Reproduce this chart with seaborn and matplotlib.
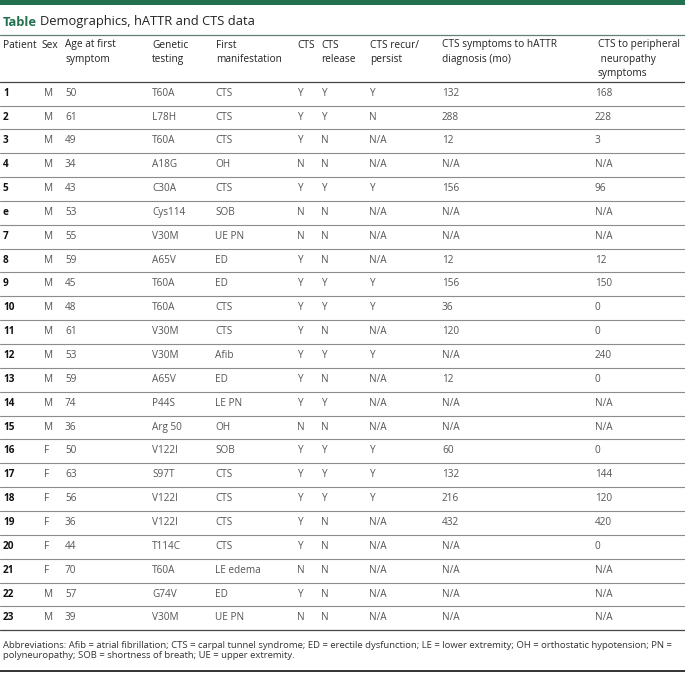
import matplotlib.pyplot as plt
import seaborn as sns

sns.set_theme(style="white")
plt.rcParams['font.family'] = ['Open Sans', 'DejaVu Sans']

# table contents
headers = ["Patient", "Sex", "Age at first\nsymptom", "Genetic\ntesting", "First\nmanifestation",
           "CTS", "CTS\nrelease", "CTS recur/\npersist", "CTS symptoms to hATTR\ndiagnosis (mo)",
           "CTS to peripheral\n neuropathy\nsymptoms"]
patient = ["1", "2", "3", "4", "5", "e", "7", "8", "9", "10", "11", "12", "13", "14", "15",
           "16", "17", "18", "19", "20", "21", "22", "23"]
sex = ["M"] * 15 + ["F"] * 6 + ["M", "M"]
age = [50, 61, 49, 34, 43, 53, 55, 59, 45, 48, 61, 53, 59, 74, 36, 50, 63, 56, 36, 44, 70, 57, 39]
genetic = ["T60A", "L78H", "T60A", "A18G", "C30A", "Cys114", "V30M", "A65V", "T60A", "T60A",
           "V30M", "V30M", "A65V", "P44S", "Arg 50", "V122I", "S97T", "V122I", "V122I", "T114C",
           "T60A", "G74V", "V30M"]
first_manif = ["CTS", "CTS", "CTS", "OH", "CTS", "SOB", "UE PN", "ED", "ED", "CTS", "CTS", "Afib",
               "ED", "LE PN", "OH", "SOB", "CTS", "CTS", "CTS", "CTS", "LE edema", "ED", "UE PN"]
cts = ["Y", "Y", "Y", "N", "Y", "N", "N", "Y", "Y", "Y", "Y", "Y", "Y", "Y", "N", "Y", "Y", "Y",
       "Y", "Y", "N", "Y", "N"]
cts_release = ["Y", "Y", "N", "N", "Y", "N", "N", "N", "Y", "Y", "N", "Y", "N", "Y", "N", "Y",
               "Y", "Y", "N", "N", "N", "N", "N"]
cts_recur = ["Y", "N", "N/A", "N/A", "Y", "N/A", "N/A", "N/A", "Y", "Y", "N/A", "Y", "N/A", "N/A",
             "N/A", "Y", "Y", "Y", "N/A", "N/A", "N/A", "N/A", "N/A"]
cts_to_hattr = ["132", "288", "12", "N/A", "156", "N/A", "N/A", "12", "156", "36", "120", "N/A",
                "12", "N/A", "N/A", "60", "132", "216", "432", "N/A", "N/A", "N/A", "N/A"]
cts_to_pn = ["168", "228", "3", "N/A", "96", "N/A", "N/A", "12", "150", "0", "0", "240", "0",
             "N/A", "N/A", "0", "144", "120", "420", "0", "N/A", "N/A", "N/A"]
title_bold = "Table"
title_rest = "Demographics, hATTR and CTS data"
footnote = ("Abbreviations: Afib = atrial fibrillation; CTS = carpal tunnel syndrome; ED = erectile "
            "dysfunction; LE = lower extremity; OH = orthostatic hypotension; PN =\n"
            "polyneuropathy; SOB = shortness of breath; UE = upper extremity.")

columns = [patient, sex, [str(a) for a in age], genetic, first_manif, cts, cts_release,
           cts_recur, cts_to_hattr, cts_to_pn]

W, H = 685, 673
fig = plt.figure(figsize=(W / 100, H / 100), dpi=100)
ax = fig.add_axes([0, 0, 1, 1])
ax.set_xlim(0, W)
ax.set_ylim(H, 0)
ax.axis("off")

green = "#23704f"
head_x = [3, 41, 65.5, 152, 216, 297, 321, 370, 442, 598]
data_x = [3, 44.5, 65, 152, 215, 297, 321, 369, 442, 595]

# top bar and title
ax.add_patch(plt.Rectangle((0, 0), W, 4.5, color=green, lw=0))
ax.text(3, 22, title_bold, fontsize=9.3, fontweight="bold", color=green, va="center")
ax.text(40, 22, title_rest, fontsize=9.3, color="#222222", va="center")
ax.plot([0, W], [34.5, 34.5], color="#5f7f72", lw=0.9)

# header
for x, h in zip(head_x, headers):
    ax.text(x, 39.5, h, fontsize=7.3, color="#222222", va="top", linespacing=1.4)
ax.plot([0, W], [81.5, 81.5], color="#444444", lw=0.9)

# rows
y0, dy = 93.2, 23.85
for i in range(len(patient)):
    y = y0 + i * dy
    for j, (x, col) in enumerate(zip(data_x, columns)):
        if j == 0:
            ax.text(x, y, col[i], fontsize=7.2, fontweight="bold", color="#111111", va="center")
        else:
            ax.text(x, y, col[i], fontsize=7.2, color="#555555", va="center")
    last = i == len(patient) - 1
    ax.plot([0, W], [y + 12.3, y + 12.3], color="#444444" if last else "#8c8c8c",
            lw=0.9 if last else 0.8)

# footnote
ax.text(3, 650.5, footnote, fontsize=6.8, color="#333333", va="center", linespacing=1.2)
ax.plot([0, W], [671, 671], color="#111111", lw=1.2)

fig.savefig("out.png", dpi=100)
